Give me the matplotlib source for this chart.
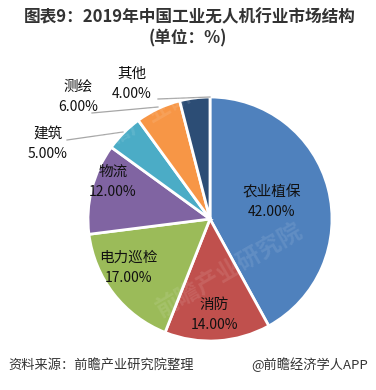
import matplotlib.pyplot as plt
import numpy as np

plt.rcParams['font.family'] = ['Noto Sans CJK SC', 'DejaVu Sans']

# 数据
categories = ['农业植保', '消防', '电力巡检', '物流', '建筑', '测绘', '其他']
shares = [42.0, 14.0, 17.0, 12.0, 5.0, 6.0, 4.0]
colors = ['#4F81BD', '#C0504D', '#9BBB59', '#8064A2', '#4BACC6', '#F79646', '#2C4D75']

W, H = 376, 390
fig = plt.figure(figsize=(W / 100, H / 100), dpi=100)
ax = fig.add_axes([0, 0, 1, 1])

# 饼图 (y 轴反向, 所以 counterclock=True 在画面上就是顺时针)
cx, cy, r = 210, 219, 122
wedges, _ = ax.pie(shares, colors=colors, startangle=-90, counterclock=True,
                   center=(cx, cy), radius=r, frame=True,
                   wedgeprops=dict(edgecolor='white', linewidth=2))
ax.set_xlim(0, W)
ax.set_ylim(H, 0)
ax.set_aspect('equal')
ax.axis('off')

# 标签: 大块在饼内, 小块在外面加引线
inside = {'农业植保': (272, 192), '消防': (214, 305), '电力巡检': (128, 258), '物流': (113, 172)}
outside = {'建筑': (48, 134), '测绘': (78, 87), '其他': (132, 74)}
for name, val in zip(categories, shares):
    pos = inside.get(name) or outside.get(name)
    ax.text(pos[0], pos[1], name, ha='center', va='center', fontsize=10.5, color='#111111')
    ax.text(pos[0], pos[1] + 20, f'{val:.2f}%', ha='center', va='center', fontsize=10, color='#111111')

# 引线
lines = {'建筑': [(67, 140), (123, 132)], '测绘': [(92, 113), (158, 107)], '其他': [(158, 99), (210, 97)]}
for pts in lines.values():
    xs, ys = zip(*pts)
    ax.plot(xs, ys, color='#A6A6A6', lw=0.9)

# 水印
for (x, y) in [(160, 110), (230, 270)]:
    ax.text(x, y, '前瞻产业研究院', fontsize=17, color='white', alpha=0.1,
            rotation=30, ha='center', va='center', fontweight='bold')

# 标题
ax.text(W / 2 + 2, 17, '图表9：2019年中国工业无人机行业市场结构', ha='center', va='center',
        fontsize=12, fontweight='bold', color='#333333')
ax.text(W / 2, 38, '(单位：%)', ha='center', va='center',
        fontsize=12, fontweight='bold', color='#333333')

# 底部来源
ax.text(8, 365, '资料来源：前瞻产业研究院整理', ha='left', va='center', fontsize=9.5, color='#333333')
ax.text(368, 365, '@前瞻经济学人APP', ha='right', va='center', fontsize=9.5, color='#333333')

fig.savefig('out.png', dpi=100)
